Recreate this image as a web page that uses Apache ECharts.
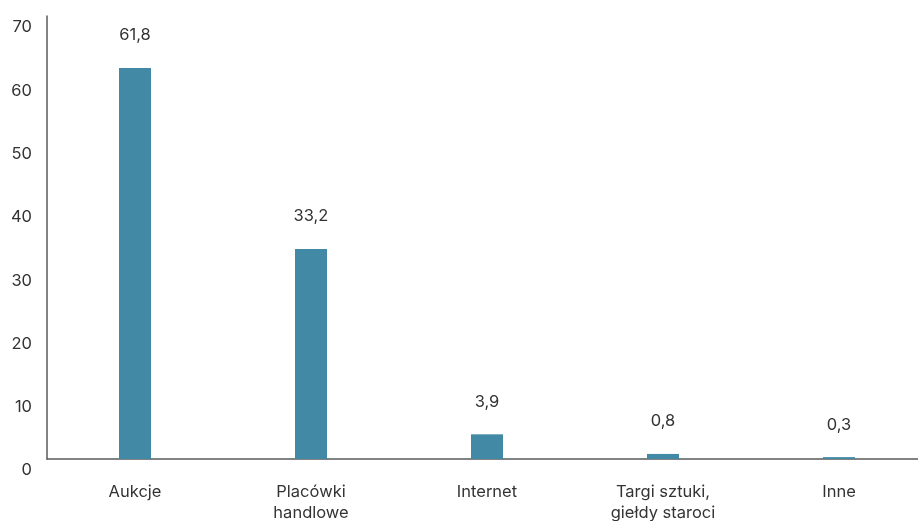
<!DOCTYPE html>
<html>
<head>
<meta charset="utf-8">
<script src="https://cdn.jsdelivr.net/npm/echarts@6/dist/echarts.min.js"></script>
<style>
  html, body { margin: 0; padding: 0; background: #fff; }
  #chart { width: 918px; height: 521px; }
</style>
</head>
<body>
<div id="chart"></div>
<script>
// Sales channels (%)
const categories = ['Aukcje', 'Placówki\nhandlowe', 'Internet', 'Targi sztuki,\ngiełdy staroci', 'Inne'];
const values = [61.8, 33.2, 3.9, 0.8, 0.3];
const yTicks = { min: 0, max: 70, interval: 10 };

const textColor = '#333333';
const axisColor = '#5a5a5a';
const fontFamily = 'Inter, "Noto Sans", sans-serif';

const chart = echarts.init(document.getElementById('chart'), null, { renderer: 'canvas' });
chart.setOption({
  animation: false,
  grid: {
    left: 47, top: 16, width: 880, bottom: 62,
    containLabel: false, outerBoundsMode: 'none'
  },
  xAxis: {
    type: 'category',
    data: categories,
    axisLine: { show: true, lineStyle: { color: axisColor, width: 1.5 } },
    axisTick: { show: false },
    axisLabel: {
      color: textColor, fontSize: 16.5, fontFamily: fontFamily,
      margin: 23, lineHeight: 21, interval: 0
    }
  },
  yAxis: {
    type: 'value',
    min: yTicks.min, max: yTicks.max, interval: yTicks.interval,
    splitLine: { show: false },
    axisTick: { show: false },
    axisLine: { show: true, lineStyle: { color: axisColor, width: 1.5 } },
    axisLabel: {
      color: textColor, fontSize: 16.5, fontFamily: fontFamily,
      margin: 15, verticalAlign: 'top', padding: [3, 0, 0, 0]
    }
  },
  series: [{
    type: 'bar',
    data: values,
    barWidth: 32,
    itemStyle: { color: '#4289a5' },
    label: {
      show: true, position: 'top', distance: 24,
      color: textColor, fontSize: 16.5, fontFamily: fontFamily,
      formatter: p => String(p.value).replace('.', ',')
    }
  }]
});
</script>
</body>
</html>
